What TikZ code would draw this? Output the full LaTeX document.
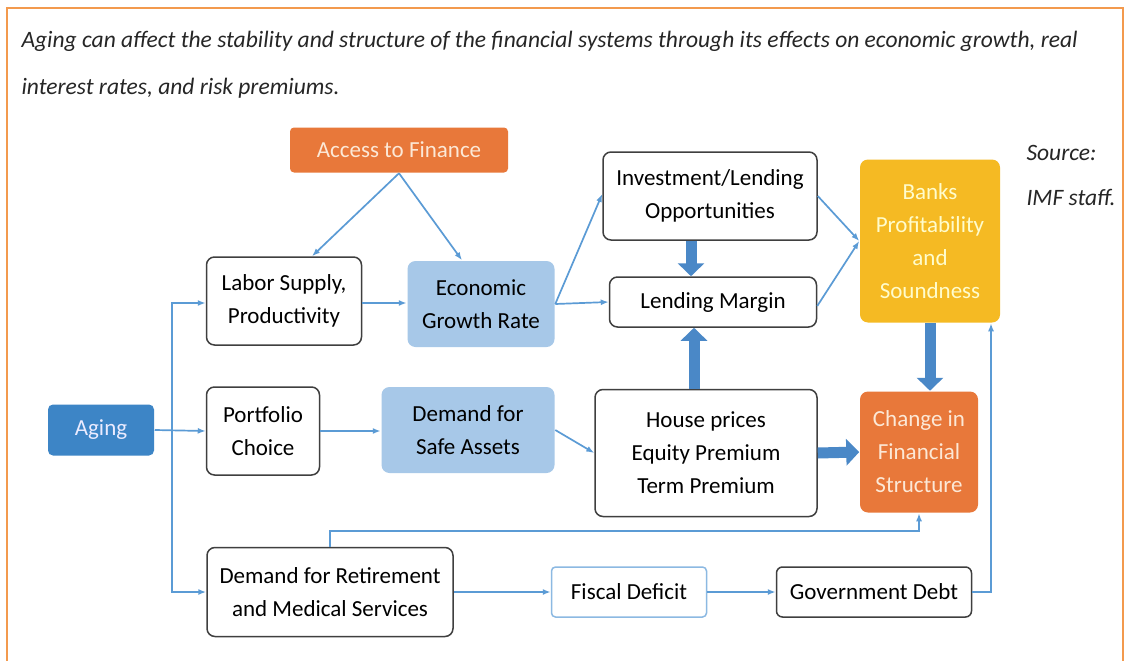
\documentclass[tikz,border=0pt]{standalone}
\usepackage{fontspec}
\setmainfont{Carlito}
\usetikzlibrary{arrows.meta}
\usetikzlibrary{calc}

\definecolor{framec}{HTML}{F39A4E}
\definecolor{boxgray}{HTML}{3F3F3F}
\definecolor{linkblue}{HTML}{5B9BD5}
\definecolor{fatblue}{HTML}{4A88C7}
\definecolor{agingblue}{HTML}{3D85C6}
\definecolor{paleblue}{HTML}{A7C8E8}
\definecolor{orangefill}{HTML}{E8783A}
\definecolor{goldfill}{HTML}{F5BA23}
\definecolor{creamtext}{HTML}{FCE8D6}

\begin{document}
\begin{tikzpicture}[x=1pt, y=-1pt,
    box/.style={draw=boxgray, line width=1.5pt, rounded corners=8pt, fill=white,
        align=center, inner sep=0pt, font=\fontsize{23}{33}\selectfont},
    paledbox/.style={box, draw=none, fill=paleblue},
    hotbox/.style={box, draw=none, fill=#1, text=creamtext},
    note/.style={font=\fontsize{23.5}{46}\selectfont\itshape, text=black!85},
    link/.style={draw=linkblue, line width=1.7pt, -{Latex[length=8pt,width=6pt]}},
    fat/.style={draw=fatblue, line width=11pt, -{Triangle[length=13pt,width=26pt]}}]

    \useasboundingbox (0,0) rectangle (1124,661);
    \fill[white] (0,0) rectangle (1124,661);
    \draw[framec, line width=1.5pt] (7,661) -- (7,8) -- (1123,8) -- (1123,661);

    % heading and source
    \node[note, anchor=base west] (title) at (18,48) {Aging can affect the stability and structure of the financial systems through its effects on economic growth, real};
    \node[note, anchor=base west] (title2) at (18,94) {interest rates, and risk premiums.};
    \node[note, anchor=base west] (source) at (1023,160) {Source:};
    \node[note, anchor=base west] (staff) at (1023,205) {IMF staff.};

    % boxes
    \node[hotbox=orangefill, minimum width=218, minimum height=45, rounded corners=4pt] (access) at (399,150) {Access to Finance};
    \node[box, minimum width=155, minimum height=88] (labor) at (284,301) {Labor Supply,\\Productivity};
    \node[paledbox, minimum width=147, minimum height=86] (growth) at (481,304) {Economic\\Growth Rate};
    \node[box, minimum width=214, minimum height=88] (invest) at (710,196) {Investment/Lending\\Opportunities};
    \node[box, minimum width=207, minimum height=50] (margin) at (713,302) {Lending Margin};
    \node[hotbox=goldfill, minimum width=140, minimum height=163, text=yellow!20] (banks) at (930,241) {Banks\\Profitability\\and\\Soundness};

    \node[hotbox=agingblue, minimum width=106, minimum height=51, rounded corners=5pt, text=blue!8] (aging) at (101,430) {Aging};
    \node[box, minimum width=113, minimum height=88] (portfolio) at (263,431) {Portfolio\\Choice};
    \node[paledbox, minimum width=173, minimum height=86] (safe) at (468,430) {Demand for\\Safe Assets};
    \node[box, minimum width=222, minimum height=127] (house) at (706,453) {House prices\\Equity Premium\\Term Premium};
    \node[hotbox=orangefill, minimum width=118, minimum height=121] (change) at (919,452) {Change in\\Financial\\Structure};

    \node[box, minimum width=246, minimum height=89] (retire) at (330,592) {Demand for Retirement\\and Medical Services};
    \node[box, draw=linkblue!70, minimum width=155, minimum height=50, rounded corners=4pt] (fiscal) at (629,592) {Fiscal Deficit};
    \node[box, minimum width=195, minimum height=50, rounded corners=6pt] (debt) at (874,592) {Government Debt};

    % thin links
    \coordinate (split) at (172,430);
    \draw[link] (aging.east) -- (portfolio.west);
    \draw[link] (split) |- ([yshift=-2pt]labor.west);
    \draw[link] (split) |- (retire.west);
    \draw[link] ([yshift=-2pt]labor.east) -- ([yshift=-2pt]labor.east -| growth.west);
    \draw[link] (access.south) -- ([xshift=28pt]labor.north);
    \draw[link] (access.south) -- ([xshift=-19pt]growth.north);
    \draw[link] (growth.east) -- ([yshift=2pt]invest.west);
    \draw[link] (growth.east) -- (margin.west);
    \draw[link] (invest.east) -- (banks.west);
    \draw[link] ([yshift=-4pt]margin.east) -- (banks.west);
    \draw[link] (portfolio.east) -- (portfolio.east -| safe.west);
    \draw[link] (safe.east) -- (house.west);
    \draw[link] (retire.north) -- ++(0,-16) -| (change.south);
    \draw[link] (retire.east) -- (fiscal.west);
    \draw[link] (fiscal.east) -- (debt.west);
    \draw[link] (debt.east) -| ([xshift=61pt]banks.south);

    % thick links
    \draw[fat] ([xshift=-19pt]invest.south) -- ([xshift=-19pt]invest.south |- margin.north);
    \draw[fat] ([xshift=-12pt]house.north) -- ([xshift=-12pt]house.north |- margin.south);
    \draw[fat] (banks.south) -- (banks.south |- change.north);
    \draw[fat] (house.east) -- (change.west);

\end{tikzpicture}
\end{document}
